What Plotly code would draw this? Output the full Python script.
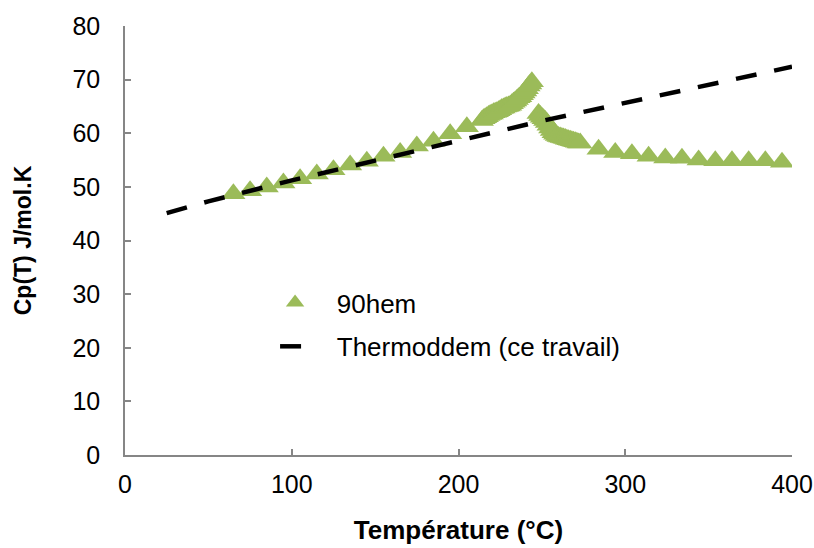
import plotly.graph_objects as go

# Measured heat capacity of the 90hem sample (temperature in °C, Cp in J/mol.K)
hem_temp = [65, 75, 85, 95, 105, 115, 125, 135, 145, 155, 165, 175, 185, 195, 205,
            214, 215, 216, 217, 218, 219, 220, 221, 222, 223, 224, 225, 226, 227, 228,
            229, 230, 231, 232, 233, 234, 235, 236, 237, 238, 239, 240, 241, 242, 243, 244,
            248, 249, 250, 251, 252, 253, 254, 255, 256, 257, 258, 259, 260, 261, 262,
            263, 264, 265, 266, 267, 268, 269, 270, 271, 272, 273,
            284, 294, 304, 314, 324, 334, 344, 354, 364, 374, 384, 394]
hem_cp = [48.7, 49.3, 50.0, 50.7, 51.5, 52.4, 53.2, 54.1, 54.8, 55.7, 56.4, 57.6, 58.5, 59.9, 61.2,
          62.4, 62.7, 62.9, 63.1, 63.3, 63.5, 63.6, 63.8, 63.9, 64.0, 64.2, 64.4, 64.6, 64.7, 64.9,
          65.0, 65.1, 65.2, 65.5, 65.8, 66.0, 66.3, 66.6, 66.8, 67.2, 67.5, 67.9, 68.3, 68.8, 69.2, 69.6,
          63.7, 63.3, 63.0, 62.7, 62.4, 62.0, 61.5, 61.0, 60.5, 60.1, 59.8, 59.6, 59.4, 59.3, 59.2,
          59.1, 59.0, 58.9, 58.8, 58.7, 58.6, 58.5, 58.4, 58.3, 58.2, 58.2,
          57.0, 56.4, 56.2, 55.7, 55.4, 55.35, 55.0, 54.85, 54.85, 54.85, 54.85, 54.6]

# Thermoddem model curve
model_temp = [25, 50, 100, 150, 200, 250, 300, 350, 400]
model_cp = [45.1, 47.3, 51.2, 55.0, 58.6, 62.3, 65.7, 69.1, 72.4]

x_ticks = [0, 100, 200, 300, 400]
y_ticks = [0, 10, 20, 30, 40, 50, 60, 70, 80]

FONT = "Liberation Sans, Arial, sans-serif"
AXIS_GREY = "#868686"
PAD = "\u00a0\u00a0\u00a0"  # extra room between legend symbol and label

fig = go.Figure()

fig.add_trace(go.Scatter(
    x=hem_temp, y=hem_cp, name=PAD + "90hem", mode="markers",
    marker=dict(symbol="triangle-up", size=21, color="#9BBB59", line=dict(width=0)),
    legendgroup="a",
))

fig.add_trace(go.Scatter(
    x=model_temp, y=model_cp, name=PAD + "Thermoddem (ce travail)", mode="lines",
    line=dict(color="black", width=4.5, dash="21px,18px"),
    legendgroup="b",
))

axis_common = dict(
    showline=True, linecolor=AXIS_GREY, linewidth=1.5, mirror=False,
    showgrid=False, zeroline=False, automargin=False,
    ticks="inside", ticklen=6, tickwidth=1.5, tickcolor=AXIS_GREY,
    tickfont=dict(family=FONT, size=25, color="black"),
)

fig.update_xaxes(
    range=[0, 400], tickvals=x_ticks, ticklabelstandoff=6,
    title=dict(text="<b>Température (°C)</b>", font=dict(family=FONT, size=26, color="black"),
               standoff=24),
    **axis_common,
)
fig.update_yaxes(
    range=[0, 80], tickvals=y_ticks, ticklabelstandoff=18,
    title=dict(text="<b>Cp(T) J/mol.K</b>", font=dict(family=FONT, size=23, color="black"),
               standoff=34),
    **axis_common,
)

fig.update_layout(
    width=814, height=548,
    margin=dict(l=125, r=22, t=26, b=93),
    plot_bgcolor="white", paper_bgcolor="white",
    showlegend=True,
    legend=dict(
        x=0.225, y=0.41, xanchor="left", yanchor="top",
        bgcolor="rgba(0,0,0,0)",
        font=dict(family=FONT, size=26, color="black"),
        tracegroupgap=7, traceorder="grouped",
    ),
)

fig.write_html("out.html")
